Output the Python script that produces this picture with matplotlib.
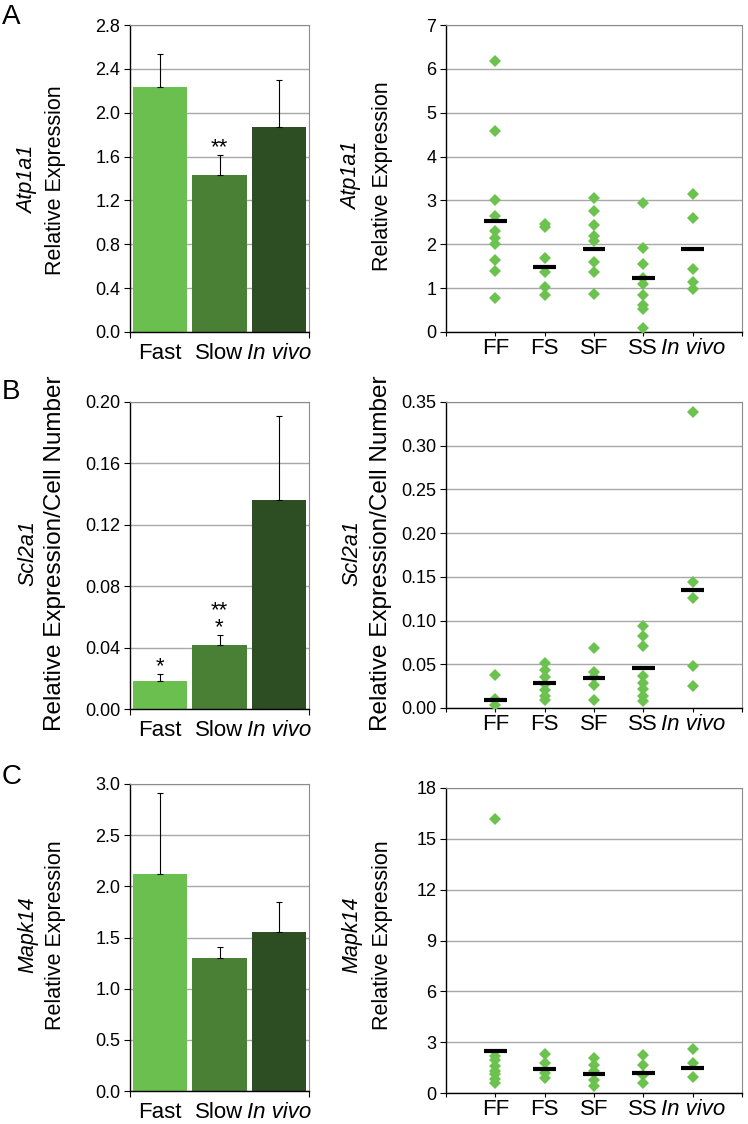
import matplotlib
matplotlib.use("Agg")
import matplotlib.pyplot as plt
from matplotlib.ticker import FormatStrFormatter

plt.rcParams["font.family"] = ["Liberation Sans", "DejaVu Sans"]

BAR_GROUPS = ["Fast", "Slow", "In vivo"]
DOT_GROUPS = ["FF", "FS", "SF", "SS", "In vivo"]

# Panel A - Atp1a1
A_BAR = [2.23, 1.43, 1.87]
A_ERR = [0.31, 0.18, 0.43]
A_STARS = ["", "**", ""]
A_DOTS = [
    [6.19, 4.58, 3.0, 2.64, 2.31, 2.15, 2.0, 1.65, 1.38, 0.77],
    [2.46, 2.40, 1.68, 1.37, 1.02, 0.85],
    [3.06, 2.75, 2.44, 2.18, 2.08, 1.6, 1.37, 0.87],
    [2.95, 1.92, 1.56, 1.22, 1.1, 0.85, 0.62, 0.52, 0.08],
    [3.14, 2.6, 1.43, 1.13, 0.98],
]
A_MEAN = [2.53, 1.49, 1.89, 1.23, 1.89]

# Panel B - Scl2a1
B_BAR = [0.018, 0.042, 0.136]
B_ERR = [0.0046, 0.0062, 0.055]
B_STARS = ["*", "**\n*", ""]
B_DOTS = [
    [0.038, 0.010, 0.003],
    [0.051, 0.043, 0.036, 0.028, 0.021, 0.014, 0.009],
    [0.069, 0.041, 0.035, 0.026, 0.009],
    [0.094, 0.082, 0.071, 0.037, 0.029, 0.022, 0.014, 0.008],
    [0.338, 0.144, 0.126, 0.048, 0.025],
]
B_MEAN = [0.009, 0.029, 0.034, 0.046, 0.135]

# Panel C - Mapk14
C_BAR = [2.12, 1.30, 1.55]
C_ERR = [0.79, 0.11, 0.30]
C_STARS = ["", "", ""]
C_DOTS = [
    [16.2, 2.2, 1.95, 1.6, 1.3, 1.1, 0.85, 0.6],
    [2.28, 1.78, 1.16, 0.86],
    [2.06, 1.67, 1.27, 0.76, 0.4],
    [2.27, 1.67, 1.06, 0.58],
    [2.6, 1.78, 0.96],
]
C_MEAN = [2.49, 1.41, 1.11, 1.16, 1.47]

BAR_COLORS = ["#6abf4f", "#4a7f36", "#2d4e23"]
DOT_COLOR = "#6cc24e"
GRID_COLOR = "#a8a8a8"
FRAME_COLOR = "#8c8c8c"

W, H = 748, 1124
fig = plt.figure(figsize=(W / 100, H / 100), dpi=100)


def box(x0, y0, x1, y1):
    # pixel box -> figure fraction rect
    return [x0 / W, 1 - y1 / H, (x1 - x0) / W, (y1 - y0) / H]


def style_axes(ax, ymax, ystep, fmt):
    ax.set_ylim(0, ymax)
    ax.set_yticks([i * ystep for i in range(int(round(ymax / ystep)) + 1)])
    ax.yaxis.set_major_formatter(FormatStrFormatter(fmt))
    ax.yaxis.grid(True, color=GRID_COLOR, lw=1)
    ax.set_axisbelow(True)
    ax.spines["top"].set_color(FRAME_COLOR)
    ax.spines["right"].set_color(FRAME_COLOR)
    ax.spines["left"].set_linewidth(1)
    ax.spines["bottom"].set_linewidth(1)
    ax.tick_params(axis="y", direction="out", length=4, width=0.8, labelsize=13, pad=3)


def draw_bars(rect, values, errors, stars, ymax, ystep, fmt):
    ax = fig.add_axes(rect)
    x = list(range(len(values)))
    ax.bar(x, values, width=0.91, color=BAR_COLORS, zorder=2)
    ax.errorbar(x, values, yerr=[[0] * len(errors), errors], fmt="none",
                ecolor="black", elinewidth=0.8, capsize=2.5, capthick=0.8, zorder=3)
    for xi, v, e, s in zip(x, values, errors, stars):
        if s:
            ax.annotate(s, (xi, v + e), xytext=(0, -2), textcoords="offset points",
                        ha="center", va="bottom", fontsize=16, linespacing=0.7)
    ax.set_xlim(-0.5, 2.5)
    ax.set_xticks(x)
    ax.set_xticklabels(BAR_GROUPS)
    ax.set_xticks([-0.5, 2.5], minor=True)
    ax.tick_params(axis="x", which="major", length=0, labelsize=16, pad=8)
    ax.tick_params(axis="x", which="minor", length=4, width=0.8)
    ax.get_xticklabels()[2].set_style("italic")
    style_axes(ax, ymax, ystep, fmt)
    return ax


def draw_dots(rect, dots, means, ymax, ystep, fmt):
    ax = fig.add_axes(rect)
    for i, pts in enumerate(dots):
        ax.plot([i + 1] * len(pts), pts, linestyle="none", marker="D",
                markersize=5.8, color=DOT_COLOR, markeredgewidth=0, zorder=3)
    ax.hlines(means, [i + 1 - 0.23 for i in range(len(means))],
              [i + 1 + 0.23 for i in range(len(means))],
              color="black", lw=3, zorder=4)
    ax.set_xlim(0, 6)
    ax.set_xticks(range(7))
    ax.set_xticklabels([""] + DOT_GROUPS + [""])
    ax.tick_params(axis="x", length=3, width=0.8, labelsize=16, pad=1)
    ax.get_xticklabels()[5].set_style("italic")
    style_axes(ax, ymax, ystep, fmt)
    return ax


def ylabels(x_gene, x_rel, yc, gene, rel, size=15.5):
    fig.text(x_gene / W, 1 - yc / H, gene, rotation=90, ha="center", va="center",
             fontsize=15.5, style="italic")
    fig.text(x_rel / W, 1 - yc / H, rel, rotation=90, ha="center", va="center",
             fontsize=size)


# row A
draw_bars(box(130, 25, 309, 332), A_BAR, A_ERR, A_STARS, 2.8, 0.4, "%.1f")
draw_dots(box(446, 25, 742, 332), A_DOTS, A_MEAN, 7, 1, "%d")
ylabels(28, 55, 180, "Atp1a1", "Relative Expression")
ylabels(352, 382, 176, "Atp1a1", "Relative Expression")

# row B
draw_bars(box(130, 402, 309, 709), B_BAR, B_ERR, B_STARS, 0.20, 0.04, "%.2f")
draw_dots(box(446, 402, 742, 708), B_DOTS, B_MEAN, 0.35, 0.05, "%.2f")
ylabels(28, 55, 553, "Scl2a1", "Relative Expression/Cell Number", size=17.5)
ylabels(352, 381, 553, "Scl2a1", "Relative Expression/Cell Number", size=17.5)

# row C
draw_bars(box(130, 784, 309, 1091), C_BAR, C_ERR, C_STARS, 3.0, 0.5, "%.1f")
draw_dots(box(446, 788, 742, 1093), C_DOTS, C_MEAN, 18, 3, "%d")
ylabels(28, 55, 935, "Mapk14", "Relative Expression")
ylabels(352, 382, 935, "Mapk14", "Relative Expression")

for letter, y in [("A", 4), ("B", 379), ("C", 764)]:
    fig.text(2 / W, 1 - y / H, letter, fontsize=20, ha="left", va="top")

fig.savefig("out.png", dpi=100)
